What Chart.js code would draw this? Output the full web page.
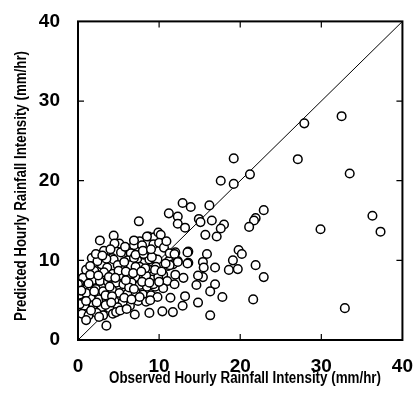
<!DOCTYPE html>
<html>
<head>
<meta charset="utf-8">
<script src="https://cdn.jsdelivr.net/npm/chart.js@4.4.1/dist/chart.umd.min.js"></script>
<style>
  html, body { margin: 0; padding: 0; background: #fff; }
  #wrap { width: 420px; height: 394px; position: relative; }
</style>
</head>
<body>
<div id="wrap"><canvas id="chart"></canvas></div>
<script>
// Datos (mm/hr)
const observed = [
  32.5, 27.9, 19.2, 27.1, 33.5, 21.2, 17.6, 19.2, 12.9, 13.9, 16.2, 22.9, 11.2, 36.3, 12.3, 21.9,
  21.7, 14.9, 15.1, 16.5, 7.5, 12.3, 18.0, 17.6, 13.2, 21.1, 29.9, 37.3, 15.7, 17.1, 19.8, 20.2,
  15.9, 13.6, 12.0, 19.1, 21.9, 15.4, 15.5, 16.9, 18.6, 19.7, 22.9, 15.4, 14.8, 13.6, 12.3, 11.2,
  11.1, 12.0, 13.0, 10.5, 11.0, 11.9, 14.6, 16.9, 16.3, 13.2, 17.8, 21.6, 11.4, 12.9, 14.8, 11.7,
  10.4, 16.3, 32.9, 8.8, 7.0, 3.5, 6.4,
  4.4, 2.7, 5.1, 4.5, 3.2, 7.6, 8.7, 9.4, 9.9, 10.2, 9.3, 10.0, 10.6, 6.9, 7.9, 6.5,
  5.3, 1.7, 4.2, 4.4, 6.1, 7.3, 8.1, 8.8, 9.4, 9.8, 2.9, 3.6, 4.9, 6.5, 7.6, 8.6,
  9.6, 1.0, 2.0, 3.2, 4.3, 5.4, 6.1, 7.1, 8.1, 9.1, 9.9, 0.6, 1.8, 2.7, 3.7, 4.7,
  5.6, 6.6, 7.6, 8.5, 9.5, 10.5, 0.2, 1.1, 2.2, 3.1, 4.2, 5.1, 6.1, 7.1, 8.0, 9.0,
  9.8, 0.6, 1.6, 2.6, 3.5, 4.5, 5.5, 7.4, 8.4, 0.8, 1.9, 2.9, 3.9, 4.9, 0.5, 1.3,
  2.3, 3.1, 4.3, 1.0, 4.7, 0.2, 1.0, 0.2, 11.3, 6.9, 11.7, 8.4, 9.3, 6.3, 3.9, 1.5,
  2.4, 3.5, 8.5, 6.9, 7.1, 8.1, 9.1, 11.9, 13.5, 12.3, 13.5, 11.3, 7.1, 8.3, 9.5, 0.0,
  1.5, 2.2, 3.0, 5.7, 5.0, 5.9, 6.8, 7.8, 10.3, 10.8, 2.5, 3.8, 4.6, 5.9, 6.9, 7.9,
  8.8, 10.0, 1.3, 2.0, 3.4, 4.2, 5.7, 6.6, 7.6, 8.9, 1.0, 2.3, 3.4, 4.1, 5.2, 6.0,
  1.6, 2.6, 0.4, 4.0, 5.8, 8.0, 9.0, 10.9
];
const predicted = [
  28.1, 27.2, 22.8, 22.7, 20.9, 20.8, 20.0, 19.6, 17.2, 16.7, 16.9, 16.3, 15.9, 15.6, 15.5, 15.3,
  15.0, 15.2, 14.8, 15.0, 14.9, 14.6, 14.5, 14.0, 14.1, 14.2, 13.9, 13.6, 13.2, 13.0, 11.3, 10.8,
  10.8, 11.1, 11.0, 10.0, 9.4, 9.8, 9.1, 9.1, 8.8, 8.9, 7.9, 7.9, 8.1, 9.7, 9.9, 9.9,
  9.3, 8.2, 7.8, 8.2, 7.4, 7.0, 6.9, 7.0, 6.1, 5.5, 5.4, 5.1, 5.3, 4.3, 4.7, 3.5,
  3.6, 3.1, 4.0, 3.4, 3.2, 1.8, 4.3,
  13.1, 12.5, 12.1, 12.1, 11.2, 12.4, 13.0, 12.9, 13.5, 13.2, 12.0, 12.2, 11.6, 11.9, 11.9, 10.9,
  11.0, 10.3, 10.3, 10.1, 10.0, 10.2, 10.7, 10.1, 10.2, 10.1, 9.5, 9.1, 9.4, 9.4, 9.2, 8.9,
  9.2, 8.8, 8.7, 8.5, 8.3, 8.1, 8.0, 7.9, 7.8, 7.6, 7.9, 7.8, 7.5, 7.4, 7.3, 7.2,
  7.0, 7.2, 6.9, 6.7, 6.7, 6.5, 7.0, 6.5, 6.4, 6.1, 6.3, 5.9, 5.8, 6.0, 5.7, 5.6,
  5.4, 5.4, 5.2, 5.1, 5.2, 4.9, 4.7, 4.9, 4.8, 4.3, 4.4, 4.1, 4.0, 4.1, 3.3, 3.1,
  3.4, 3.1, 3.3, 2.5, 3.5, 5.7, 5.9, 4.5, 10.9, 10.3, 9.5, 8.1, 7.0, 6.6, 6.7, 8.2,
  9.9, 10.2, 13.0, 12.5, 10.7, 10.8, 10.4, 10.8, 11.0, 9.8, 9.6, 9.4, 9.2, 9.0, 8.8, 7.0,
  9.3, 10.8, 10.6, 9.8, 8.7, 8.6, 8.4, 8.6, 8.6, 9.6, 8.1, 7.9, 7.8, 7.5, 6.4, 7.3,
  7.2, 7.3, 7.1, 6.1, 5.6, 5.5, 5.3, 5.1, 5.4, 5.0, 4.9, 4.7, 4.4, 4.7, 3.7, 3.9,
  3.7, 2.9, 6.2, 11.4, 11.7, 11.2, 11.4, 12.4
];
const axisTicks = [0, 10, 20, 30, 40];
const oneToOne = [0, 40];
const xTitle = 'Observed Hourly Rainfall Intensity (mm/hr)';
const yTitle = 'Predicted Hourly Rainfall Intensity (mm/hr)';

const puntos = observed.map((x, i) => ({ x: x, y: predicted[i] }));
const linea = oneToOne.map(v => ({ x: v, y: v }));

const tickFont = { family: "'Liberation Sans', Arial, sans-serif", size: 19, weight: 'bold' };

// Texto condensado: se escala en horizontal hasta el ancho deseado
function drawCondensed(ctx, text, cx, cy, width, angle) {
  ctx.save();
  ctx.font = "bold 16px 'Liberation Sans', Arial, sans-serif";
  ctx.fillStyle = '#000';
  ctx.textAlign = 'center';
  ctx.textBaseline = 'middle';
  const w = ctx.measureText(text).width;
  ctx.translate(cx, cy);
  ctx.rotate(angle);
  ctx.scale(width / w, 1);
  ctx.fillText(text, 0, 0);
  ctx.restore();
}

// Marco, marcas hacia adentro y títulos de los ejes
const framePlugin = {
  id: 'frame',
  afterDatasetsDraw(chart) {
    const { ctx, chartArea: a, scales } = chart;
    ctx.save();
    ctx.strokeStyle = '#000';
    ctx.lineWidth = 2;
    ctx.strokeRect(a.left, a.top, a.right - a.left, a.bottom - a.top);
    ctx.lineWidth = 1.2;
    const len = 6;
    axisTicks.slice(1, -1).forEach(v => {
      const px = scales.x.getPixelForValue(v);
      const py = scales.y.getPixelForValue(v);
      ctx.beginPath();
      ctx.moveTo(px, a.bottom); ctx.lineTo(px, a.bottom - len);
      ctx.moveTo(px, a.top); ctx.lineTo(px, a.top + len);
      ctx.moveTo(a.left, py); ctx.lineTo(a.left + len, py);
      ctx.moveTo(a.right, py); ctx.lineTo(a.right - len, py);
      ctx.stroke();
    });
    ctx.restore();
    drawCondensed(ctx, xTitle, 245, 379, 272, 0);
    drawCondensed(ctx, yTitle, 22, 186, 270, -Math.PI / 2);
  }
};

new Chart(document.getElementById('chart'), {
  type: 'scatter',
  data: {
    datasets: [{
      label: 'Observado vs Predicho',
      data: puntos,
      pointRadius: 4.3,
      pointBorderWidth: 1.5,
      pointBorderColor: '#000',
      pointBackgroundColor: '#fff',
      order: 1
    }, {
      type: 'line',
      label: '1:1',
      data: linea,
      borderColor: '#000',
      borderWidth: 1,
      pointRadius: 0,
      fill: false,
      order: 2
    }]
  },
  options: {
    responsive: true,
    maintainAspectRatio: false,
    animation: false,
    layout: { padding: { top: 14, right: 11, left: 0, bottom: 0 } },
    plugins: { legend: { display: false }, tooltip: { enabled: false } },
    scales: {
      x: {
        type: 'linear',
        min: 0, max: 40,
        afterBuildTicks: s => { s.ticks = axisTicks.map(v => ({ value: v })); },
        afterFit: s => { s.height = 54; },
        grid: { display: false },
        border: { display: false },
        ticks: { font: tickFont, color: '#000', padding: 7, maxRotation: 0 }
      },
      y: {
        type: 'linear',
        min: 0, max: 40,
        afterBuildTicks: s => { s.ticks = axisTicks.map(v => ({ value: v })); },
        afterFit: s => { s.width = 78; },
        grid: { display: false },
        border: { display: false },
        ticks: { font: tickFont, color: '#000', padding: 10 }
      }
    }
  },
  plugins: [framePlugin]
});
</script>
</body>
</html>
